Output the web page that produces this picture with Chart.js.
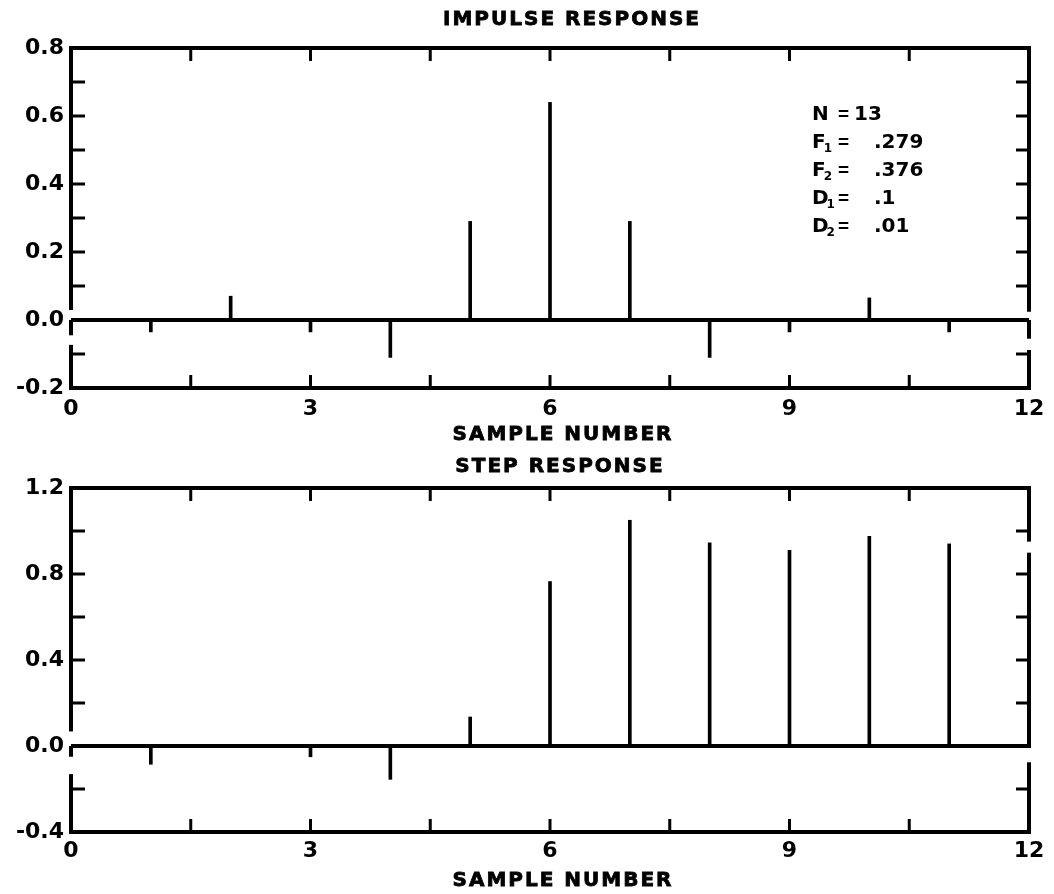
<!DOCTYPE html>
<html>
<head>
<meta charset="utf-8">
<title>Impulse and step response</title>
<script src="https://cdn.jsdelivr.net/npm/chart.js@4"></script>
<style>
  html, body { margin: 0; padding: 0; background: #fff; }
  #wrap { position: relative; width: 1054px; height: 894px; }
  canvas { position: absolute; left: 0; }
</style>
</head>
<body>
<div id="wrap">
  <canvas id="impulse" width="1054" height="445" style="top:0"></canvas>
  <canvas id="step" width="1054" height="449" style="top:445px"></canvas>
</div>
<script>
// ---- data ----
const sampleNumbers = [0, 1, 2, 3, 4, 5, 6, 7, 8, 9, 10, 11, 12];
const impulseResponse = [0, -0.035, 0.07, -0.035, -0.11, 0.29, 0.64, 0.29, -0.11, -0.035, 0.065, -0.035, 0];
const stepResponse = [0, -0.085, 0, -0.05, -0.155, 0.135, 0.765, 1.05, 0.945, 0.91, 0.975, 0.94, null];

const sampleTickLabels = [0, 3, 6, 9, 12];
const impulseTickLabels = [-0.2, 0, 0.2, 0.4, 0.6, 0.8];
const stepTickLabels = [-0.4, 0, 0.4, 0.8, 1.2];

const impulseTitle = 'IMPULSE RESPONSE';
const stepTitle = 'STEP RESPONSE';
const axisTitle = 'SAMPLE NUMBER';

// filter parameters: symbol, subscript, value
const paramSymbols = ['N', 'F', 'F', 'D', 'D'];
const paramSubscripts = ['', '1', '2', '1', '2'];
const paramValues = ['13', '.279', '.376', '.1', '.01'];

// ---- drawing helpers ----
const FONT = '"DejaVu Sans", "Liberation Sans", sans-serif';
const NARROW = '"Liberation Sans", "DejaVu Sans", sans-serif';

function spacedText(ctx, text, cx, cy, spacing) {
  ctx.letterSpacing = '0px';
  const w0 = ctx.measureText(text).width;
  const total = w0 + spacing * (text.length - 1);
  ctx.letterSpacing = spacing + 'px';
  ctx.textAlign = 'left';
  ctx.fillText(text, cx - total / 2, cy);
  ctx.strokeText(text, cx - total / 2, cy);
  ctx.letterSpacing = '0px';
}

function strokeLine(ctx, x1, y1, x2, y2) {
  ctx.beginPath();
  ctx.moveTo(x1, y1);
  ctx.lineTo(x2, y2);
  ctx.stroke();
}

// Plot frame with inward tick marks on all four sides; the side rules
// are pen strokes broken around the zero line.
const framePlugin = {
  id: 'frame',
  afterDatasetsDraw(chart, args, o) {
    const { ctx, chartArea: a, scales: { x, y } } = chart;
    const eps = 1e-9;
    ctx.save();
    ctx.strokeStyle = '#000';
    ctx.lineCap = 'butt';

    ctx.lineWidth = 3;
    y.ticks.forEach(t => {
      const v = t.value;
      if (Math.abs(v) < eps || v <= y.min + eps || v >= y.max - eps) return;
      const py = y.getPixelForValue(v);
      strokeLine(ctx, a.left, py, a.left + 14, py);
      strokeLine(ctx, a.right - 13, py, a.right, py);
    });
    x.ticks.forEach(t => {
      const v = t.value;
      if (v <= x.min + eps || v >= x.max - eps) return;
      const px = x.getPixelForValue(v);
      strokeLine(ctx, px, a.top, px, a.top + 13);
      strokeLine(ctx, px, a.bottom - 13, px, a.bottom);
    });

    ctx.lineWidth = 4;
    ctx.lineCap = 'square';
    strokeLine(ctx, a.left, a.top, a.right, a.top);
    strokeLine(ctx, a.left, a.bottom, a.right, a.bottom);

    const side = (px, gaps, stub) => {
      let from = y.max;
      gaps.forEach(g => {
        strokeLine(ctx, px, y.getPixelForValue(from), px, y.getPixelForValue(g[0]));
        from = g[1];
      });
      strokeLine(ctx, px, y.getPixelForValue(from), px, y.getPixelForValue(y.min));
      if (stub !== null) {
        ctx.lineCap = 'butt';
        strokeLine(ctx, px, y.getPixelForValue(0), px, y.getPixelForValue(stub));
        ctx.lineCap = 'square';
      }
    };
    side(a.left, o.leftGaps, o.leftStub);
    side(a.right, o.rightGaps, o.rightStub);
    ctx.restore();
  }
};

// Titles, axis caption and the parameter block.
const captionsPlugin = {
  id: 'captions',
  afterDraw(chart, args, o) {
    const { ctx, chartArea: a } = chart;
    const cx = (a.left + a.right) / 2;
    ctx.save();
    ctx.fillStyle = '#000';
    ctx.strokeStyle = '#000';
    ctx.lineWidth = 0.8;
    ctx.textBaseline = 'middle';
    ctx.font = 'bold 20px ' + FONT;
    spacedText(ctx, o.title, cx + o.titleDx, o.titleY, 2);
    spacedText(ctx, o.axisTitle, cx + o.axisDx, o.axisY, 2);

    if (o.showParams) {
      const x0 = 812;
      paramSymbols.forEach((sym, i) => {
        const yy = 115 + i * 28;
        ctx.textAlign = 'left';
        ctx.font = 'bold 20px ' + FONT;
        ctx.fillText(sym, x0, yy);
        const w = ctx.measureText(sym).width;
        if (paramSubscripts[i]) {
          ctx.font = 'bold 12px ' + FONT;
          ctx.fillText(paramSubscripts[i], x0 + w - 2, yy + 6);
        }
        ctx.font = 'bold 19px ' + NARROW;
        ctx.fillText('=', x0 + 26, yy);
        ctx.font = 'bold 20px ' + FONT;
        ctx.fillText(paramValues[i], sym === 'N' ? x0 + 42 : x0 + 62, yy);
      });
    }
    ctx.restore();
  }
};

function inList(list, v) {
  return list.some(l => Math.abs(l - v) < 1e-6);
}

function makeChart(id, values, cfg) {
  return new Chart(document.getElementById(id), {
    type: 'bar',
    data: {
      datasets: [{
        data: sampleNumbers.map((s, i) => ({ x: s, y: values[i] })),
        backgroundColor: '#000',
        borderWidth: 0,
        barThickness: 3
      }]
    },
    options: {
      responsive: false,
      animation: false,
      events: [],
      layout: { padding: { top: cfg.padTop, right: 25, left: 0, bottom: 0 } },
      plugins: {
        legend: { display: false },
        tooltip: { enabled: false },
        title: { display: false },
        frame: cfg.frame,
        captions: cfg.captions
      },
      scales: {
        x: {
          type: 'linear',
          offset: false,
          min: 0,
          max: 12,
          grid: { display: false, offset: false },
          border: { display: false },
          ticks: {
            stepSize: 1.5,
            autoSkip: false,
            maxRotation: 0,
            color: '#000',
            padding: cfg.xPad,
            font: { family: FONT, weight: 'bold', size: 22 },
            callback: v => inList(sampleTickLabels, v) ? String(v) : ''
          },
          afterFit: s => { s.height = cfg.xHeight; }
        },
        y: {
          type: 'linear',
          min: cfg.yMin,
          max: cfg.yMax,
          border: { display: false },
          grid: {
            drawTicks: false,
            color: c => Math.abs(c.tick.value) < 1e-9 ? '#000' : 'rgba(0,0,0,0)',
            lineWidth: c => Math.abs(c.tick.value) < 1e-9 ? 4 : 0
          },
          ticks: {
            stepSize: cfg.yStep,
            autoSkip: false,
            color: '#000',
            padding: 7,
            font: { family: FONT, weight: 'bold', size: 22 },
            callback: v => inList(cfg.yLabels, v) ? (Math.abs(v) < 1e-9 ? '0.0' : v.toFixed(1)) : ''
          },
          afterFit: s => { s.width = 71; }
        }
      }
    },
    plugins: [framePlugin, captionsPlugin]
  });
}

makeChart('impulse', impulseResponse, {
  padTop: 48, xHeight: 57, xPad: 0,
  yMin: -0.2, yMax: 0.8, yStep: 0.1, yLabels: impulseTickLabels,
  frame: { leftGaps: [[0.035, -0.079]], leftStub: -0.045, rightGaps: [[0.03, -0.094]], rightStub: -0.055 },
  captions: { title: impulseTitle, titleDx: 21, titleY: 20, axisTitle: axisTitle, axisDx: 12, axisY: 435, showParams: true }
});

makeChart('step', stepResponse, {
  padTop: 43, xHeight: 62, xPad: -2,
  yMin: -0.4, yMax: 1.2, yStep: 0.2, yLabels: stepTickLabels,
  frame: { leftGaps: [[0.077, -0.14]], leftStub: -0.05, rightGaps: [[0.96, 0.89], [0, -0.085]], rightStub: null },
  captions: { title: stepTitle, titleDx: 9, titleY: 22, axisTitle: axisTitle, axisDx: 12, axisY: 436, showParams: false }
});
</script>
</body>
</html>
